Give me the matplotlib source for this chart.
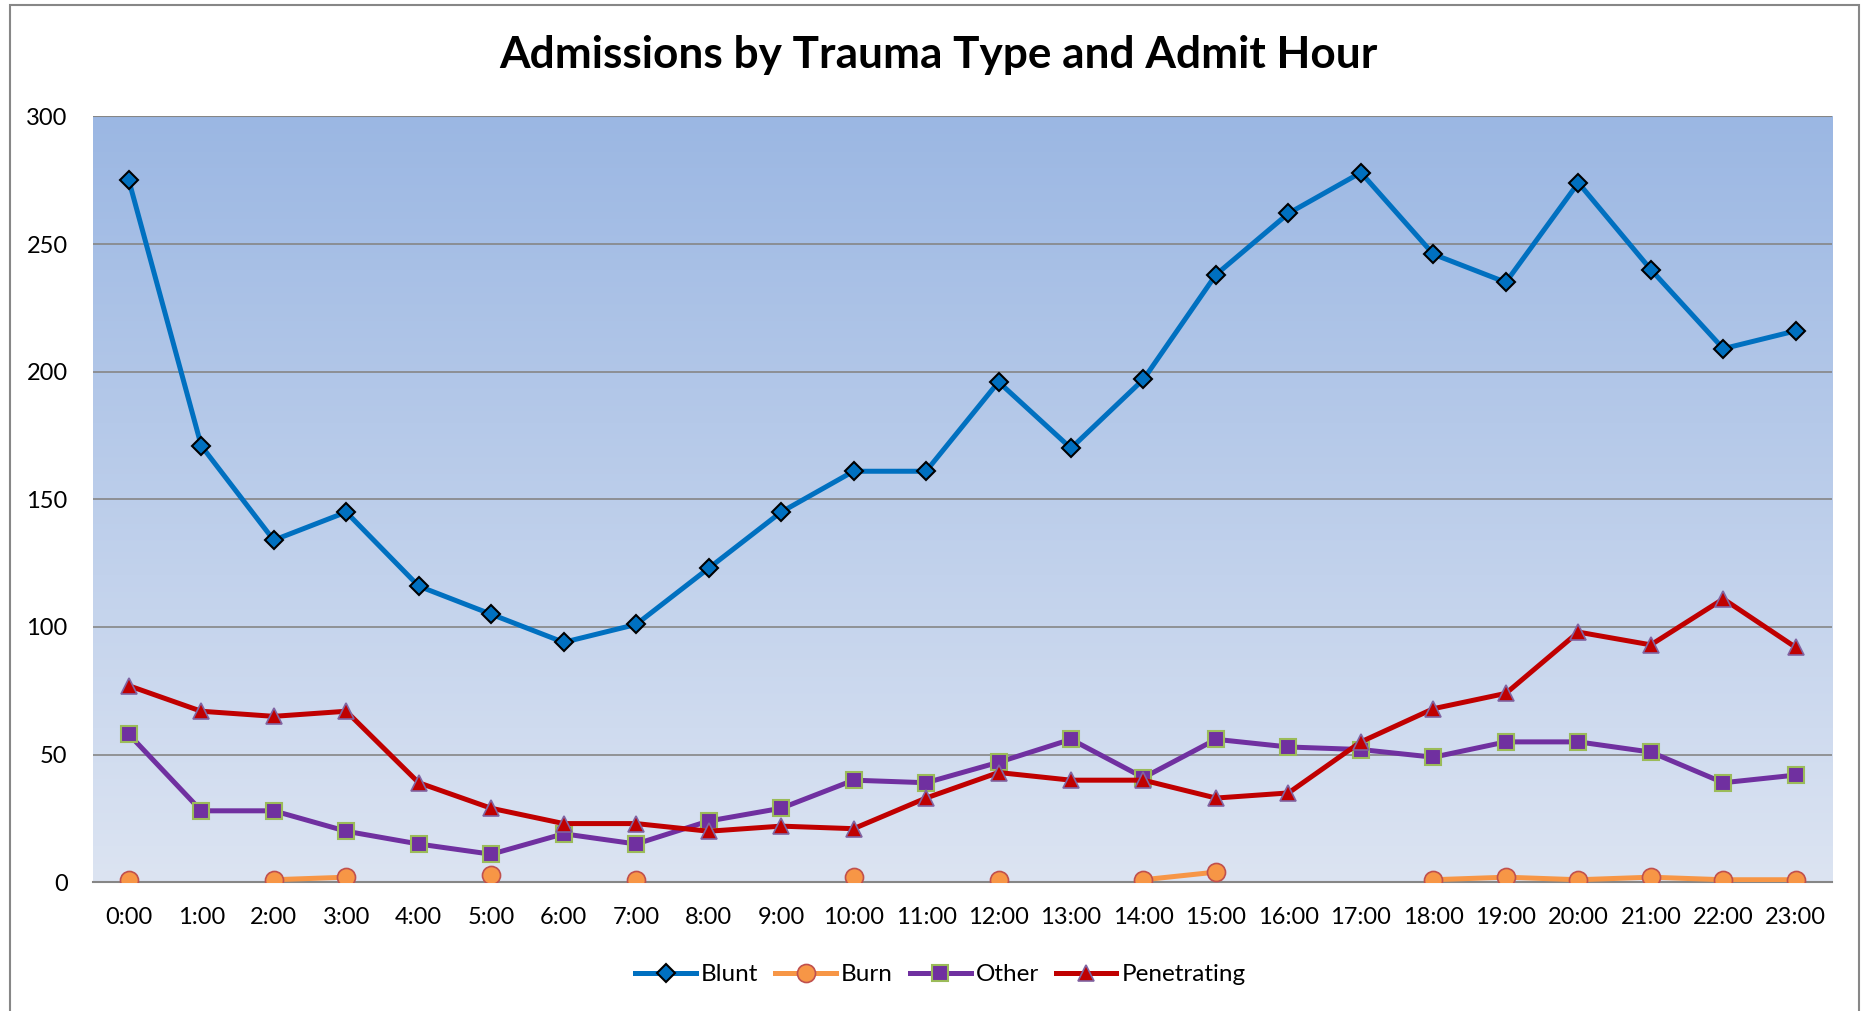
import numpy as np
import matplotlib
matplotlib.use("Agg")
import matplotlib.pyplot as plt
from matplotlib.patches import Rectangle
from matplotlib.colors import LinearSegmentedColormap

plt.rcParams['font.family'] = ['Lato', 'DejaVu Sans']

hours = [f"{h}:00" for h in range(24)]
blunt = [275, 171, 134, 145, 116, 105, 94, 101, 123, 145, 161, 161, 196, 170, 197, 238, 262, 278, 246, 235, 274, 240, 209, 216]
burn = [1, np.nan, 1, 2, np.nan, 3, np.nan, 1, np.nan, np.nan, 2, np.nan, 1, np.nan, 1, 4, np.nan, np.nan, 1, 2, 1, 2, 1, 1]
other = [58, 28, 28, 20, 15, 11, 19, 15, 24, 29, 40, 39, 47, 56, 41, 56, 53, 52, 49, 55, 55, 51, 39, 42]
penetrating = [77, 67, 65, 67, 39, 29, 23, 23, 20, 22, 21, 33, 43, 40, 40, 33, 35, 55, 68, 74, 98, 93, 111, 92]

fig = plt.figure(figsize=(18.62, 10.11), dpi=100)
# outer frame
fig.patches.append(Rectangle((9.5/1862, -0.05), (1859 - 9.5)/1862, 1.05 - 4.5/1011,
                             transform=fig.transFigure, fill=False, edgecolor='#878787',
                             linewidth=1.5, zorder=0))

ax = fig.add_axes([0.0497, 0.1273, 0.9342, 0.7576])
x = np.arange(len(hours))

# gradient background
cmap = LinearSegmentedColormap.from_list('bg', ['#DCE4F2', '#9BB7E3'])
grad = np.linspace(0, 1, 256).reshape(-1, 1)
ax.imshow(grad, extent=[0, 1, 0, 1], transform=ax.transAxes, origin='lower',
          cmap=cmap, aspect='auto', zorder=0)

ax.set_xlim(-0.5, 23.5)
ax.set_ylim(0, 300)
ax.set_yticks(range(0, 301, 50))
ax.set_xticks(x)
ax.set_xticklabels(hours)
for s in ['left', 'right', 'top']:
    ax.spines[s].set_visible(False)
ax.spines['bottom'].set_color('#868686')
ax.spines['bottom'].set_linewidth(1.5)
ax.grid(axis='y', color='#868686', linewidth=1.2, zorder=1)
ax.axhline(300, color='#868686', linewidth=1.5, zorder=1)
ax.tick_params(axis='both', length=0, labelsize=17, colors='black')
ax.tick_params(axis='x', pad=18)
ax.tick_params(axis='y', pad=18)

lw = 3.6
ax.plot(x, blunt, color='#0070C0', lw=lw, marker='D', ms=9, mfc='#0070C0', mec='black',
        mew=1.5, label='Blunt', zorder=5)
ax.plot(x, burn, color='#F79646', lw=lw, marker='o', ms=13, mfc='#F79646', mec='#C0504D',
        mew=1.2, label='Burn', zorder=3)
ax.plot(x, other, color='#7030A0', lw=lw, marker='s', ms=12, mfc='#7030A0', mec='#9BBB59',
        mew=1.5, label='Other', zorder=4)
ax.plot(x, penetrating, color='#C00000', lw=lw, marker='^', ms=12, mfc='#C00000', mec='#8064A2',
        mew=1.2, label='Penetrating', zorder=4)

fig.suptitle('Admissions by Trauma Type and Admit Hour', x=0.504, y=0.946,
             fontsize=31.8, fontweight='bold', va='center')

fig.legend(loc='center', bbox_to_anchor=(0.505, 0.036), ncol=4, frameon=False,
           fontsize=17.5, handlelength=2.5, columnspacing=0.7, handletextpad=0.2)

fig.savefig('out.png', dpi=100)
